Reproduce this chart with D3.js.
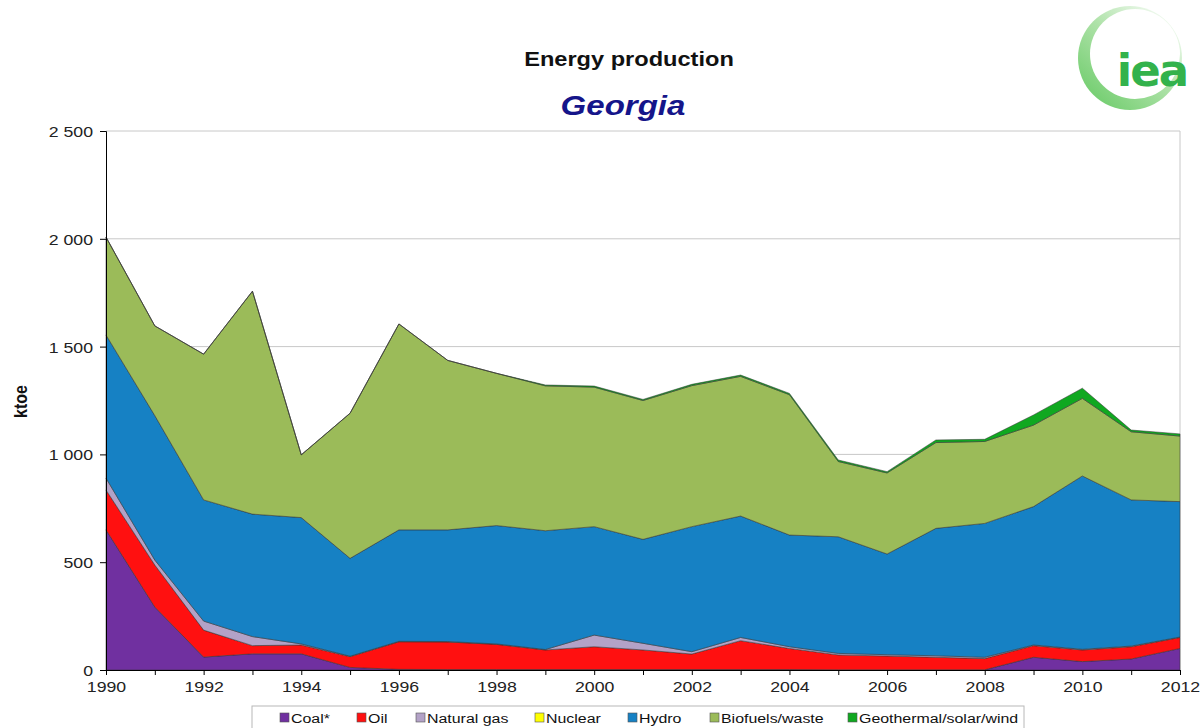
<!DOCTYPE html>
<html>
<head>
<meta charset="utf-8">
<script src="https://cdn.jsdelivr.net/npm/d3@7"></script>
<style>
  html, body { margin: 0; padding: 0; background: #fff; }
  svg { display: block; font-family: "Liberation Sans", Arial, sans-serif; }
</style>
</head>
<body>
<svg id="chart" width="1201" height="728"></svg>
<script>
// Energy production in Georgia, ktoe, 1990-2012
const years = [1990, 1991, 1992, 1993, 1994, 1995, 1996, 1997, 1998, 1999, 2000,
               2001, 2002, 2003, 2004, 2005, 2006, 2007, 2008, 2009, 2010, 2011, 2012];

const coal       = [650, 292, 60, 75, 75, 12, 3, 2, 2, 2, 2, 2, 2, 2, 2, 1, 1, 1, 1, 59, 39, 51, 100];
const oil        = [185, 195, 125, 38, 41, 50, 128, 128, 117, 91, 106, 91, 72, 134, 98, 69, 64, 58, 52, 54, 54, 57, 51];
const naturalGas = [55, 23, 42, 42, 5, 2, 2, 2, 2, 2, 54, 31, 11, 15, 8, 7, 6, 7, 6, 3, 3, 3, 2];
const nuclear    = [0, 0, 0, 0, 0, 0, 0, 0, 0, 0, 0, 0, 0, 0, 0, 0, 0, 0, 0, 0, 0, 0, 0];
const hydro      = [664, 670, 562, 568, 586, 454, 517, 518, 549, 551, 503, 482, 580, 563, 518, 541, 467, 591, 621, 642, 804, 678, 628];
const biofuels   = [454, 416, 676, 1034, 291, 673, 955, 786, 706, 672, 647, 644, 654, 648, 651, 349, 376, 398, 380, 378, 360, 316, 304];
const geoSolarWind = [0, 0, 0, 0, 0, 0, 0, 0, 0, 4, 5, 5, 6, 6, 6, 7, 6, 12, 10, 47, 47, 8, 10];

const yTicks = [0, 500, 1000, 1500, 2000, 2500];
const xLabelYears = [1990, 1992, 1994, 1996, 1998, 2000, 2002, 2004, 2006, 2008, 2010, 2012];

const seriesNames = ["Coal*", "Oil", "Natural gas", "Nuclear", "Hydro", "Biofuels/waste", "Geothermal/solar/wind"];
const seriesValues = [coal, oil, naturalGas, nuclear, hydro, biofuels, geoSolarWind];
const seriesColors = ["#7030a0", "#ff1010", "#b3a2c7", "#ffff00", "#1681c4", "#9bbb59", "#10a820"];

const rows = years.map((yr, i) => {
  const r = { year: yr };
  seriesNames.forEach((n, k) => { r[n] = seriesValues[k][i]; });
  return r;
});

const SX = 1.18; // horizontal text widening used throughout
const svg = d3.select("#chart");
const margin = { left: 106, right: 21, top: 131, bottom: 58 };
const W = 1201, H = 728;
const x = d3.scaleLinear().domain([1990, 2012]).range([margin.left, W - margin.right]);
const y = d3.scaleLinear().domain([0, 2500]).range([H - margin.bottom, margin.top]);

function label(parent, px, py, txt, opts) {
  const t = parent.append("text")
    .attr("transform", `translate(${px},${py}) scale(${SX},1)`)
    .attr("text-anchor", opts.anchor || "start")
    .attr("font-size", opts.size)
    .attr("fill", opts.fill || "#111")
    .text(txt);
  if (opts.weight) t.attr("font-weight", opts.weight);
  if (opts.style) t.attr("font-style", opts.style);
  return t;
}

// gridlines
svg.append("g").selectAll("line").data(yTicks.filter(t => t > 0)).join("line")
  .attr("x1", x(1990)).attr("x2", x(2012))
  .attr("y1", d => y(d)).attr("y2", d => y(d))
  .attr("stroke", "#c8c8c8").attr("stroke-width", 1);
svg.append("line")
  .attr("x1", x(2012)).attr("x2", x(2012)).attr("y1", y(2500)).attr("y2", y(0))
  .attr("stroke", "#c8c8c8");

// stacked areas
const stack = d3.stack().keys(seriesNames);
const layers = stack(rows);
const area = d3.area()
  .x(d => x(d.data.year))
  .y0(d => y(d[0]))
  .y1(d => y(d[1]));

svg.append("g").selectAll("path").data(layers).join("path")
  .attr("d", area)
  .attr("fill", (d, i) => seriesColors[i])
  .attr("stroke", (d, i) => d3.sum(seriesValues[i]) > 0 ? "rgba(50,50,50,0.75)" : "none")
  .attr("stroke-width", 0.7)
  .attr("stroke-linejoin", "round");

// axes
const yAxis = d3.axisLeft(y).tickValues(yTicks).tickSize(6).tickPadding(0)
  .tickFormat(d => d3.format(",")(d).replace(",", " "));
const gy = svg.append("g").attr("transform", `translate(${x(1990)},0)`).call(yAxis);
gy.select(".domain").attr("stroke", "#000");
gy.selectAll(".tick line").attr("stroke", "#000");
gy.selectAll("text")
  .attr("x", null).attr("dy", "0.36em")
  .attr("transform", `translate(-13,0) scale(${SX},1)`)
  .attr("font-size", 15).attr("fill", "#222")
  .attr("font-family", "'Liberation Sans', Arial, sans-serif");

const xAxis = d3.axisBottom(x).tickValues(years).tickSize(5).tickPadding(0)
  .tickFormat(d => xLabelYears.includes(d) ? String(d) : "");
const gx = svg.append("g").attr("transform", `translate(0,${y(0)})`).call(xAxis);
gx.select(".domain").attr("stroke", "#000");
gx.selectAll(".tick line").attr("stroke", "#000");
gx.selectAll("text")
  .attr("y", null).attr("dy", null)
  .attr("transform", `translate(0,22) scale(${SX},1)`)
  .attr("font-size", 15).attr("fill", "#222")
  .attr("font-family", "'Liberation Sans', Arial, sans-serif");

// axis title
svg.append("text")
  .attr("transform", `translate(27,${(y(0) + y(2500)) / 2 + 1}) rotate(-90) scale(1,${SX})`)
  .attr("text-anchor", "middle")
  .attr("font-size", 16).attr("font-weight", "bold").attr("fill", "#111")
  .text("ktoe");

// titles
label(svg, 629, 66, "Energy production", { anchor: "middle", size: 20, weight: "bold" });
label(svg, 623, 115, "Georgia", { anchor: "middle", size: 28, weight: "bold", style: "italic", fill: "#15158a" });

// legend
const legend = svg.append("g");
legend.append("rect").attr("x", 252).attr("y", 706).attr("width", 772).attr("height", 30)
  .attr("fill", "#fff").attr("stroke", "#b8b8b8");
const legendX = [280, 357, 416, 535, 628, 710, 848];
seriesNames.forEach((n, i) => {
  const g = legend.append("g").attr("transform", `translate(${legendX[i]},717)`);
  g.append("rect").attr("x", 0).attr("y", -4).attr("width", 9).attr("height", 9)
    .attr("fill", seriesColors[i]).attr("stroke", "#555").attr("stroke-width", 0.6);
  label(g, 11, 6, n, { size: 13.5 });
});

// logo
const defs = svg.append("defs");
const grad = defs.append("linearGradient").attr("id", "ring")
  .attr("x1", "0%").attr("y1", "100%").attr("x2", "90%").attr("y2", "0%");
grad.append("stop").attr("offset", "0%").attr("stop-color", "#62c860");
grad.append("stop").attr("offset", "55%").attr("stop-color", "#aee2a8");
grad.append("stop").attr("offset", "100%").attr("stop-color", "#ffffff");
const logo = svg.append("g");
logo.append("circle").attr("cx", 1130).attr("cy", 58).attr("r", 52).attr("fill", "url(#ring)");
logo.append("circle").attr("cx", 1135).attr("cy", 54).attr("r", 45).attr("fill", "#fff");
logo.append("text").attr("x", 1152).attr("y", 86).attr("text-anchor", "middle")
  .attr("font-size", 45).attr("font-weight", "bold").attr("fill", "#33b24c")
  .attr("font-family", "'DejaVu Sans', Arial, sans-serif").attr("letter-spacing", -2)
  .text("iea");
</script>
</body>
</html>
